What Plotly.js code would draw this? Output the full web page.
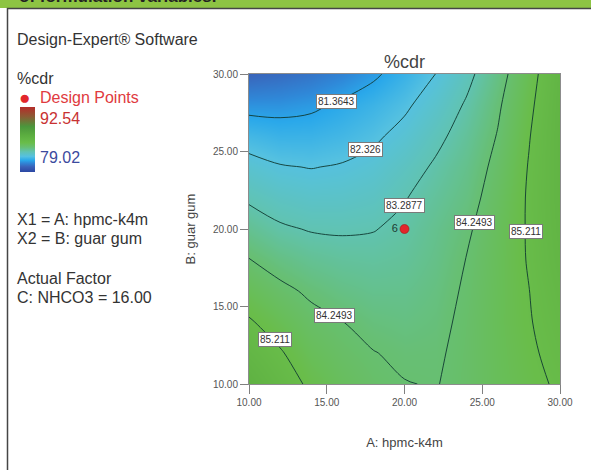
<!DOCTYPE html>
<html>
<head>
<meta charset="utf-8">
<script src="https://cdn.plot.ly/plotly-3.0.1.min.js"></script>
<style>
  html, body { margin: 0; padding: 0; background: #ffffff; }
  #chart { width: 591px; height: 470px; }
</style>
</head>
<body>
<div id="chart"></div>
<script>
// Factor levels of the prediction grid (actual units)
const hpmcK4m = [10, 12, 14, 16, 18, 20, 22, 24, 26, 28, 30];
const guarGum = [10, 12, 14, 16, 18, 20, 22, 24, 26, 28, 30];

// Predicted %cdr, one row per guar gum level (10 -> 30), NHCO3 held at 16.00
const cdrAtGuar10 = [86.25, 85.65, 85.05, 84.68, 84.42, 84.27, 84.22, 84.45, 84.76, 85.03, 85.31];
const cdrAtGuar12 = [85.79, 85.28, 84.76, 84.47, 84.27, 84.14, 84.16, 84.43, 84.78, 85.09, 85.46];
const cdrAtGuar14 = [85.29, 84.86, 84.46, 84.26, 84.04, 83.96, 84.07, 84.40, 84.80, 85.16, 85.59];
const cdrAtGuar16 = [84.79, 84.42, 84.13, 83.91, 83.78, 83.79, 83.98, 84.34, 84.78, 85.20, 85.72];
const cdrAtGuar18 = [84.28, 83.94, 83.70, 83.57, 83.53, 83.61, 83.87, 84.27, 84.76, 85.26, 85.86];
const cdrAtGuar20 = [83.72, 83.39, 83.24, 83.21, 83.26, 83.44, 83.78, 84.14, 84.71, 85.28, 85.94];
const cdrAtGuar22 = [83.17, 82.91, 82.78, 82.80, 82.92, 83.25, 83.60, 83.97, 84.59, 85.29, 85.99];
const cdrAtGuar24 = [82.62, 82.38, 82.30, 82.39, 82.58, 82.95, 83.39, 83.82, 84.45, 85.25, 86.01];
const cdrAtGuar26 = [81.94, 81.76, 81.77, 81.93, 82.19, 82.57, 83.09, 83.62, 84.29, 85.17, 86.02];
const cdrAtGuar28 = [81.08, 81.09, 81.21, 81.50, 81.80, 82.19, 82.73, 83.38, 84.14, 85.05, 85.99];
const cdrAtGuar30 = [80.15, 80.30, 80.50, 80.80, 81.22, 81.75, 82.33, 83.06, 83.93, 84.90, 85.93];

// Contour levels drawn on the plot
const contourLevels = [81.3643, 82.326, 83.2877, 84.2493, 85.211];

// Response range of the colour legend
const cdrLow = 79.02;
const cdrHigh = 92.54;

// Design point (centre run, 6 replicates)
const designHpmc = [20];
const designGuar = [20];
const designReps = ['6'];

// Axis ticks
const tickValues = [10, 15, 20, 25, 30];
const tickLabels = ['10.00', '15.00', '20.00', '25.00', '30.00'];

const cdrGrid = [cdrAtGuar10, cdrAtGuar12, cdrAtGuar14, cdrAtGuar16, cdrAtGuar18, cdrAtGuar20,
                 cdrAtGuar22, cdrAtGuar24, cdrAtGuar26, cdrAtGuar28, cdrAtGuar30];

// Plot-area geometry in pixels, and helpers from page pixels to paper coordinates
const L = 249, T = 74, W = 311, H = 310;
const FIG_W = 591, FIG_H = 470;
const px = x => (x - L) / W;
const py = y => (T + H - y) / H;

const SANS = 'Liberation Sans, Arial, Helvetica, sans-serif';
const NARROW = 'Liberation Sans Narrow, Arial Narrow, Liberation Sans, Arial, sans-serif';

const colorscale = [
  [0.00, '#2b47a3'],
  [0.08, '#3a62b8'],
  [0.14, '#2f88d8'],
  [0.18, '#2aa8ea'],
  [0.24, '#55c1e0'],
  [0.31, '#60c3b4'],
  [0.38, '#67bf74'],
  [0.45, '#69bd4a'],
  [0.56, '#5cae40'],
  [0.70, '#4b963c'],
  [0.85, '#8a5c34'],
  [1.00, '#b52c2a']
];

const nLev = contourLevels.length;
const levelSpec = {
  start: contourLevels[0],
  end: contourLevels[nLev - 1],
  size: (contourLevels[nLev - 1] - contourLevels[0]) / (nLev - 1)
};

// Smooth colour fill of the response surface, with its colour legend
const fillTrace = {
  type: 'contour',
  x: hpmcK4m,
  y: guarGum,
  z: cdrGrid,
  zmin: cdrLow,
  zmax: cdrHigh,
  zauto: false,
  colorscale: colorscale,
  autocontour: false,
  contours: Object.assign({ coloring: 'heatmap', showlines: false, showlabels: false }, levelSpec),
  line: { width: 0 },
  colorbar: {
    x: px(20), xanchor: 'left', xref: 'paper',
    y: py(139.5), yanchor: 'middle', yref: 'paper',
    len: 65, lenmode: 'pixels',
    thickness: 15, thicknessmode: 'pixels',
    xpad: 0, ypad: 0,
    outlinewidth: 0,
    ticks: '', showticklabels: false
  },
  hoverinfo: 'x+y+z'
};

// Iso-response lines
const lineTrace = {
  type: 'contour',
  x: hpmcK4m,
  y: guarGum,
  z: cdrGrid,
  autocontour: false,
  contours: Object.assign({ coloring: 'none', showlines: true, showlabels: false }, levelSpec),
  line: { color: 'rgba(16,58,50,0.9)', width: 1, smoothing: 1 },
  showscale: false,
  hoverinfo: 'skip'
};

const designTrace = {
  type: 'scatter',
  mode: 'markers+text',
  x: designHpmc,
  y: designGuar,
  text: designReps,
  textposition: 'middle left',
  textfont: { family: SANS, size: 11, color: '#1c3a33' },
  marker: { color: '#e2262b', size: 9, line: { color: '#9c1518', width: 0.6 } },
  showlegend: false,
  cliponaxis: false
};

// Boxed labels on the contour lines: [level index, hpmc, guar gum]
const labelSpots = [
  [0, 15.6, 28.2],
  [1, 17.5, 25.15],
  [2, 20.0, 21.5],
  [3, 24.5, 20.45],
  [4, 27.8, 19.85],
  [3, 15.5, 14.4],
  [4, 11.65, 12.9]
];

const annotations = labelSpots.map(([k, ax, ay]) => ({
  x: ax, y: ay, xref: 'x', yref: 'y',
  text: String(contourLevels[k]),
  showarrow: false,
  font: { family: SANS, size: 10, color: '#333' },
  bgcolor: '#ffffff',
  bordercolor: '#7a7a7a',
  borderwidth: 1,
  borderpad: 1
}));

// Side panel text
function sideText(text, xPix, yPix, size, color) {
  return {
    x: px(xPix), y: py(yPix), xref: 'paper', yref: 'paper',
    xanchor: 'left', yanchor: 'middle',
    text: text, showarrow: false,
    font: { family: SANS, size: size, color: color }
  };
}
annotations.push(
  sideText('Design-Expert® Software', 15, 39, 16, '#333'),
  sideText('%cdr', 15, 78, 16, '#333'),
  sideText('●', 17, 97, 19, '#e2262b'),
  sideText('Design Points', 38, 97, 16, '#e03a40'),
  sideText(String(cdrHigh.toFixed(2)), 38, 118, 16, '#c83232'),
  sideText(String(cdrLow.toFixed(2)), 38, 157, 16, '#3b4a9e'),
  sideText('X1 = A: hpmc-k4m', 15, 219, 16, '#333'),
  sideText('X2 = B: guar gum', 15, 238, 16, '#333'),
  sideText('Actual Factor', 15, 278, 16, '#333'),
  sideText('C: NHCO3 = 16.00', 15, 297, 16, '#333'),
  {
    x: px(17), y: py(8), xref: 'paper', yref: 'paper',
    xanchor: 'left', yanchor: 'bottom',
    text: '<b>of formulation variables.</b>', showarrow: false,
    font: { family: SANS, size: 17, color: '#222' }
  }
);

const axisCommon = {
  range: [10, 30],
  tickvals: tickValues,
  ticktext: tickLabels,
  ticks: 'outside',
  tickcolor: '#808080',
  tickwidth: 1,
  tickfont: { family: NARROW, size: 10, color: '#555' },
  showline: true,
  linecolor: '#8c8c8c',
  linewidth: 1,
  mirror: true,
  showgrid: false,
  zeroline: false,
  automargin: false
};

const layout = {
  width: FIG_W,
  height: FIG_H,
  margin: { l: L, r: FIG_W - L - W, t: T, b: FIG_H - T - H, pad: 0 },
  paper_bgcolor: '#ffffff',
  plot_bgcolor: '#ffffff',
  font: { family: SANS, color: '#444' },
  title: {
    text: '%cdr',
    font: { family: SANS, size: 18, color: '#444' },
    x: px(404.5), xref: 'paper', xanchor: 'center',
    y: 1 - 62 / FIG_H, yref: 'container', yanchor: 'middle'
  },
  xaxis: Object.assign({}, axisCommon, {
    ticklen: 9,
    title: { text: 'A: hpmc-k4m', font: { family: SANS, size: 13, color: '#444' }, standoff: 30 }
  }),
  yaxis: Object.assign({}, axisCommon, {
    ticklen: 8,
    title: { text: 'B: guar gum', font: { family: SANS, size: 13, color: '#444' }, standoff: 14 }
  }),
  annotations: annotations,
  shapes: [
    { type: 'rect', xref: 'paper', yref: 'paper', layer: 'below',
      x0: px(-5), x1: px(600), y0: py(8), y1: py(-5),
      fillcolor: '#8dc443', line: { width: 0 } },
    { type: 'rect', xref: 'paper', yref: 'paper', layer: 'above',
      x0: px(7.5), x1: px(640), y0: py(520), y1: py(8.5),
      fillcolor: 'rgba(0,0,0,0)', line: { color: '#454545', width: 1.5 } }
  ],
  showlegend: false
};

Plotly.newPlot('chart', [fillTrace, lineTrace, designTrace], layout, { staticPlot: true, displayModeBar: false });
</script>
</body>
</html>
